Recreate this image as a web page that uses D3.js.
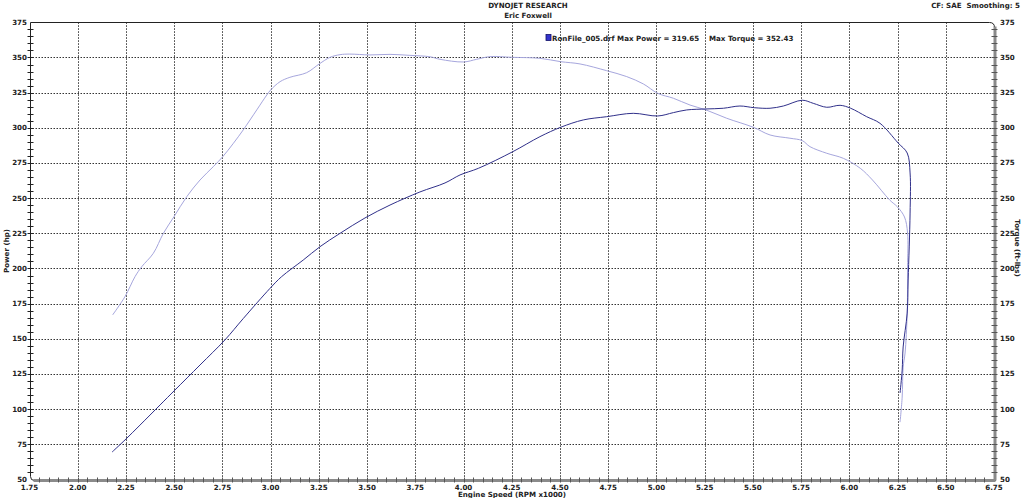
<!DOCTYPE html>
<html><head><meta charset="utf-8">
<script src="https://cdn.jsdelivr.net/npm/d3@7"></script>
<style>
html,body{margin:0;padding:0;background:#fff;}
svg{display:block;font-family:"DejaVu Sans",Verdana,sans-serif;font-weight:bold;}
</style></head>
<body>
<svg id="c" width="1024" height="498"></svg>
<script>
const titleLines = ["DYNOJET RESEARCH", "Eric Foxwell"];
const infoText = "CF: SAE  Smoothing: 5";
const legendName = "RonFile_005.drf";
const maxPowerLabel = "Max Power = 319.65";
const maxTorqueLabel = "Max Torque = 352.43";
const xTicks = [1.75,2.00,2.25,2.50,2.75,3.00,3.25,3.50,3.75,4.00,4.25,4.50,4.75,5.00,5.25,5.50,5.75,6.00,6.25,6.50,6.75];
const yTicks = [50,75,100,125,150,175,200,225,250,275,300,325,350,375];
const xTitle = "Engine Speed (RPM x1000)";
const yLeftTitle = "Power (hp)";
const yRightTitle = "Torque (ft-lbs)";

const powerRpm = [2.178,2.245,2.323,2.427,2.504,2.634,2.763,2.858,2.997,3.057,3.169,3.256,3.36,3.489,3.619,3.774,3.904,3.982,4.077,4.255,4.396,4.504,4.621,4.742,4.88,5.007,5.088,5.157,5.257,5.347,5.433,5.507,5.589,5.658,5.756,5.813,5.883,5.952,6.007,6.09,6.159,6.253,6.3,6.315,6.315,6.305,6.3,6.279,6.274,6.263];
const powerHp = [69.5,78.1,88.7,103.0,113.6,131.4,149.2,164.4,185.9,194.2,206.0,215.5,225.0,235.9,245.1,254.4,260.8,266.5,271.2,283.0,293.7,300.4,305.6,307.9,310.3,308.4,310.8,312.7,313.4,313.9,315.5,314.3,313.9,315.5,319.6,317.4,314.6,316.0,313.9,307.9,303.2,289.2,282.1,267.9,239.4,191.8,168.3,144.2,127.8,111.5];
const torqueRpm = [2.181,2.245,2.297,2.332,2.392,2.444,2.499,2.565,2.634,2.703,2.752,2.807,2.858,2.928,2.98,3.0,3.049,3.1,3.187,3.252,3.308,3.36,3.41,3.515,3.619,3.722,3.826,3.878,4.0,4.068,4.137,4.255,4.396,4.504,4.604,4.742,4.846,4.932,5.007,5.088,5.174,5.257,5.364,5.502,5.589,5.692,5.756,5.796,5.883,5.969,6.057,6.12,6.209,6.25,6.286,6.302,6.302,6.3,6.289,6.279,6.274,6.263];
const torqueFt = [167.0,180.0,194.2,201.3,210.8,225.0,236.8,251.0,262.9,272.4,279.5,289.0,298.5,312.7,323.3,326.9,332.8,335.9,339.2,345.4,350.1,352.0,352.4,351.8,352.2,351.5,350.5,348.7,346.8,348.7,350.6,350.1,349.4,347.0,345.4,340.6,336.4,331.2,324.5,321.0,316.2,312.7,306.8,300.4,294.9,292.6,290.9,286.6,281.9,278.3,271.2,262.9,248.7,243.7,236.6,225.2,201.0,168.3,139.9,129.9,108.6,90.8];

const svg = d3.select("#c");
const x = d3.scaleLinear().domain([1.75, 6.75]).range([29.5, 994]);
const y = d3.scaleLinear().domain([50, 375]).range([479.5, 22.3]);
const FS = 7.1;

// grid
const grid = svg.append("g").attr("stroke", "#333").attr("stroke-width", 1).attr("stroke-dasharray", "1.5,1.5");
grid.selectAll(".gx").data(xTicks.slice(1, -1)).join("line")
  .attr("x1", d => Math.round(x(d)) + 0.5).attr("x2", d => Math.round(x(d)) + 0.5)
  .attr("y1", y(375)).attr("y2", y(50));
grid.selectAll(".gy").data(yTicks.slice(1, -1)).join("line")
  .attr("y1", d => Math.round(y(d)) + 0.5).attr("y2", d => Math.round(y(d)) + 0.5)
  .attr("x1", x(1.75)).attr("x2", x(6.75));

// top border with rounded corner
const x0 = Math.round(x(1.75)) + 0.5, x1 = Math.round(x(6.75)) + 0.5;
const yT = Math.round(y(375)) + 0.5, yB = Math.round(y(50)) + 0.5;
svg.append("path").attr("d", `M${x0},${yT}L${x1 - 5},${yT}Q${x1},${yT} ${x1},${yT + 5}`)
  .attr("fill", "none").attr("stroke", "#222").attr("stroke-width", 1);

// right axis (gray bar)
svg.append("rect").attr("x", x1 - 1).attr("y", yT + 4).attr("width", 3).attr("height", yB - yT - 4).attr("fill", "#8a8a8a");
// bottom axis (gray bar)
svg.append("path").attr("d", `M${x0},${yB - 4}Q${x0},${yB} ${x0 + 4},${yB}L${x1 + 1},${yB}`)
  .attr("fill", "none").attr("stroke", "#222").attr("stroke-width", 1);
svg.append("rect").attr("x", x0 + 3).attr("y", yB - 1.5).attr("width", x1 - x0 - 2).attr("height", 3).attr("fill", "#8a8a8a");
// left axis
svg.append("line").attr("x1", x0).attr("x2", x0).attr("y1", yT).attr("y2", yB - 4).attr("stroke", "#222");

// minor ticks
const minorY = d3.range(55, 375, 5);
svg.append("g").selectAll("line").data(minorY).join("line")
  .attr("x1", x0 - 3).attr("x2", x0 + 3)
  .attr("y1", d => Math.round(y(d)) + 0.5).attr("y2", d => Math.round(y(d)) + 0.5)
  .attr("stroke", "#222");
svg.append("g").selectAll("line").data(minorY).join("line")
  .attr("x1", x1 - 3).attr("x2", x1 + 3)
  .attr("y1", d => Math.round(y(d)) + 0.5).attr("y2", d => Math.round(y(d)) + 0.5)
  .attr("stroke", "#555");
const minorX = d3.range(1.80, 6.75, 0.05);
svg.append("g").selectAll("line").data(minorX).join("line")
  .attr("x1", d => Math.round(x(d)) + 0.5).attr("x2", d => Math.round(x(d)) + 0.5)
  .attr("y1", yB - 3).attr("y2", yB + 2)
  .attr("stroke", "#555");

// tick labels
svg.append("g").selectAll("text").data(yTicks).join("text")
  .attr("x", 27).attr("y", d => y(d)).attr("dy", "0.35em").attr("text-anchor", "end")
  .attr("font-size", FS).attr("fill", "#222").text(d => d);
svg.append("g").selectAll("text").data(yTicks).join("text")
  .attr("x", 1000).attr("y", d => y(d)).attr("dy", "0.35em").attr("text-anchor", "start")
  .attr("font-size", FS).attr("fill", "#222").text(d => d);
svg.append("g").selectAll("text").data(xTicks).join("text")
  .attr("x", d => x(d)).attr("y", 489.5).attr("text-anchor", "middle")
  .attr("font-size", FS).attr("fill", "#222").text(d => d.toFixed(2));

// axis titles
svg.append("text").attr("x", 512).attr("y", 497).attr("text-anchor", "middle")
  .attr("font-size", FS).attr("fill", "#222").text(xTitle);
svg.append("text").attr("transform", "translate(9,251) rotate(-90)").attr("text-anchor", "middle")
  .attr("font-size", FS).attr("fill", "#222").text(yLeftTitle);
svg.append("text").attr("transform", "translate(1015,248) rotate(90)").attr("text-anchor", "middle")
  .attr("font-size", FS).attr("fill", "#222").text(yRightTitle);

// titles
svg.append("text").attr("x", 528).attr("y", 8).attr("text-anchor", "middle")
  .attr("font-size", FS).attr("fill", "#222").text(titleLines[0]);
svg.append("text").attr("x", 528).attr("y", 18).attr("text-anchor", "middle")
  .attr("font-size", FS).attr("fill", "#222").text(titleLines[1]);
svg.append("text").attr("x", 1020).attr("y", 8).attr("text-anchor", "end")
  .style("white-space", "pre")
  .attr("font-size", FS).attr("fill", "#222").text(infoText);

// legend
svg.append("rect").attr("x", 546).attr("y", 34.5).attr("width", 5).attr("height", 6)
  .attr("fill", "#3333cc").attr("stroke", "#111166").attr("stroke-width", 0.8);
svg.append("text").attr("x", 552).attr("y", 41).attr("font-size", FS).attr("fill", "#222")
  .text(legendName + " " + maxPowerLabel);
svg.append("text").attr("x", 709).attr("y", 41).attr("font-size", FS).attr("fill", "#222")
  .text(maxTorqueLabel);

// curves
const line = d3.line().x(d => x(d[0])).y(d => y(d[1])).curve(d3.curveCatmullRom.alpha(0.5));
svg.append("path").datum(d3.zip(torqueRpm, torqueFt)).attr("d", line)
  .attr("fill", "none").attr("stroke", "#a6a6dd").attr("stroke-width", 1);
svg.append("path").datum(d3.zip(powerRpm, powerHp)).attr("d", line)
  .attr("fill", "none").attr("stroke", "#30308a").attr("stroke-width", 1);
</script>
</body></html>
